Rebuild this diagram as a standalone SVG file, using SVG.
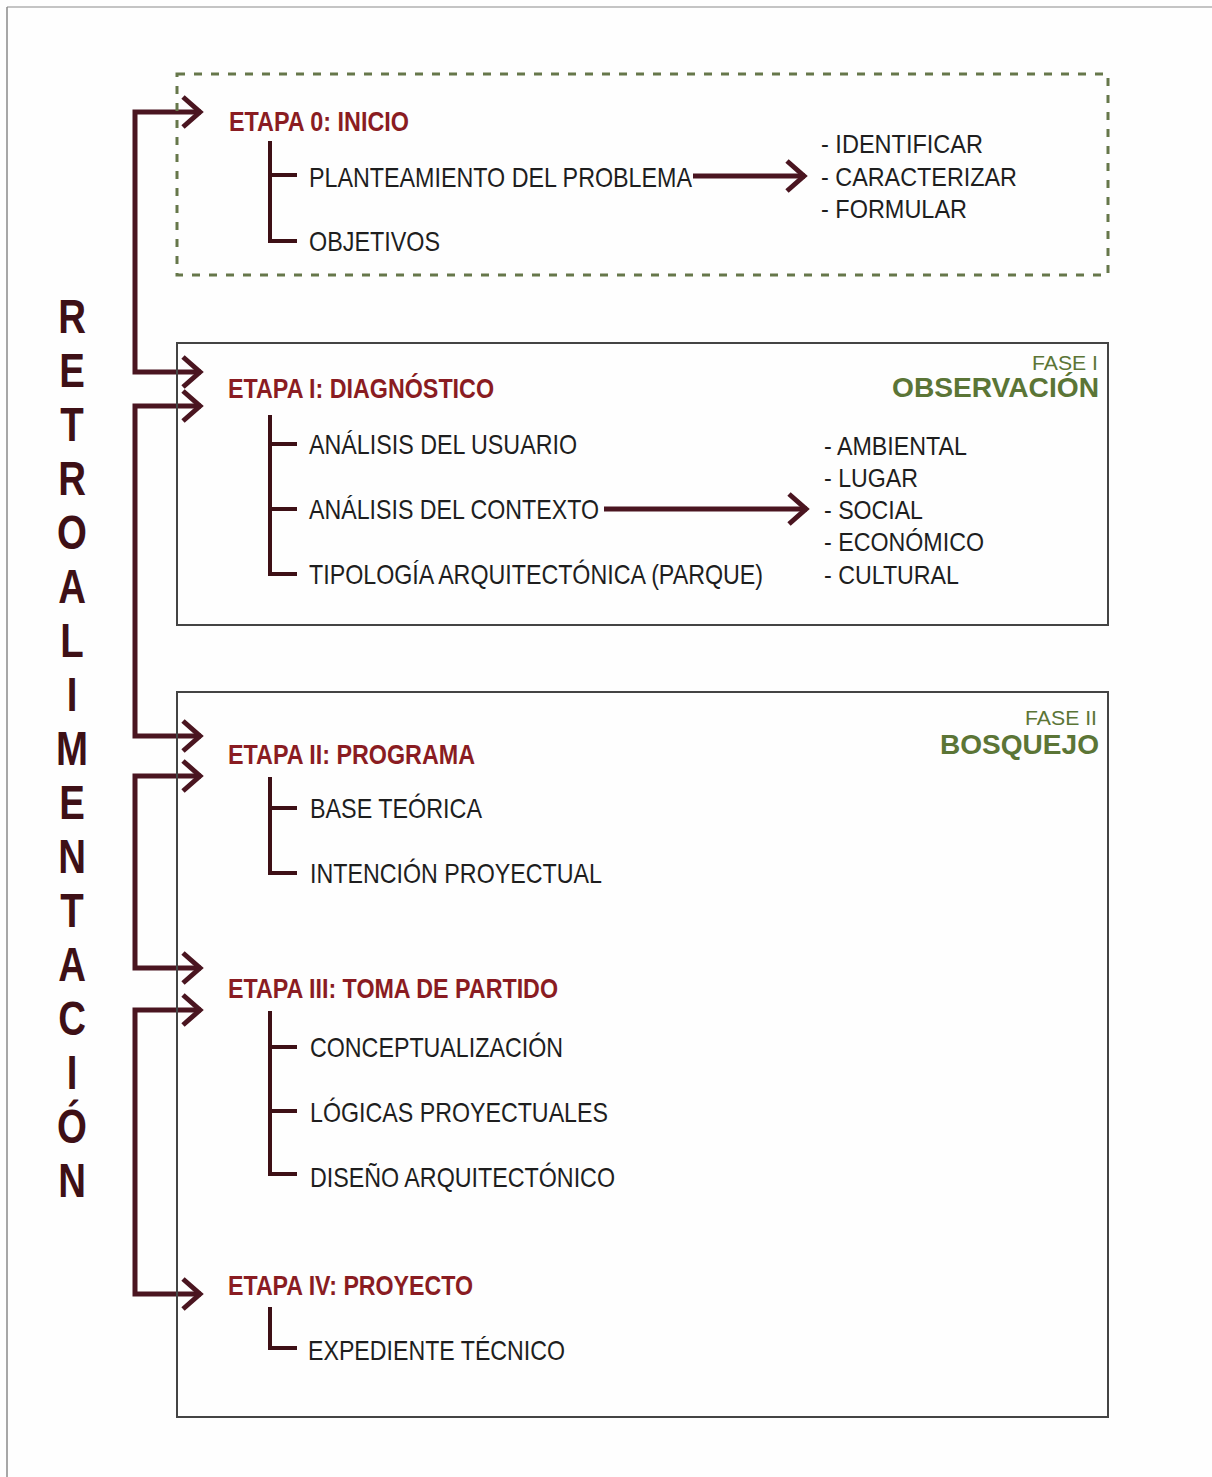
<svg xmlns="http://www.w3.org/2000/svg" width="1212" height="1477" viewBox="0 0 1212 1477">
<style>
.t{font-family:"Liberation Sans",Arial,sans-serif;font-size:28px;fill:#1e1e1e}
.l{font-family:"Liberation Sans",Arial,sans-serif;font-size:26.5px;fill:#1e1e1e}
.l2{font-family:"Liberation Sans",Arial,sans-serif;font-size:25px;fill:#1e1e1e}
.st{font-family:"Liberation Sans",Arial,sans-serif;font-size:27px;font-weight:bold;fill:#8a1c22}
.fase{font-family:"Liberation Sans",Arial,sans-serif;font-size:21px;fill:#5b7536}
.fb{font-family:"Liberation Sans",Arial,sans-serif;font-size:28px;font-weight:bold;fill:#5b7536}
.rl{font-family:"Liberation Sans",Arial,sans-serif;font-size:48px;font-weight:bold;fill:#3e1016}
.fbk{fill:none;stroke:#4a1520;stroke-width:5;stroke-linejoin:miter}
.tree{fill:none;stroke:#3e1016;stroke-width:4}
.box{fill:none;stroke:#444;stroke-width:2}
</style>
<defs>
<marker id="chev" markerUnits="userSpaceOnUse" viewBox="0 0 30 36" markerWidth="30" markerHeight="36" refX="25" refY="18" orient="auto-start-reverse">
<path d="M7,3 L24,18 L7,33" fill="none" stroke="#4a1520" stroke-width="5"/>
</marker>
</defs>
<rect x="0" y="0" width="1212" height="1477" fill="#fefefe"/>
<g id="frame">
<line x1="7" y1="7" x2="1212" y2="7" stroke="#c4c4c4" stroke-width="2"/>
<line x1="7" y1="7" x2="7" y2="1477" stroke="#8a8a8a" stroke-width="1.5"/>
</g>
<g id="connectors">
<path class="fbk" d="M201,112 H135 V372 H201" marker-start="url(#chev)" marker-end="url(#chev)"/>
<path class="fbk" d="M201,406 H135 V736 H201" marker-start="url(#chev)" marker-end="url(#chev)"/>
<path class="fbk" d="M201,776 H135 V968 H201" marker-start="url(#chev)" marker-end="url(#chev)"/>
<path class="fbk" d="M201,1010 H135 V1294 H201" marker-start="url(#chev)" marker-end="url(#chev)"/>
<path class="fbk" d="M693,176 H805" marker-end="url(#chev)"/>
<path class="fbk" d="M604,509 H807" marker-end="url(#chev)"/>
</g>
<g id="box-etapa0">
<rect x="177" y="74" width="931" height="201" fill="none" stroke="#66774a" stroke-width="3" stroke-dasharray="8 9"/>
</g>
<g id="box-fase1"><rect class="box" x="177" y="343" width="931" height="282"/></g>
<g id="box-fase2"><rect class="box" x="177" y="692" width="931" height="725"/></g>
<g id="retroalimentacion" transform="translate(72,0) scale(0.8,1)">
<text class="rl" x="0" y="333" text-anchor="middle">R</text>
<text class="rl" x="0" y="387" text-anchor="middle">E</text>
<text class="rl" x="0" y="441" text-anchor="middle">T</text>
<text class="rl" x="0" y="495" text-anchor="middle">R</text>
<text class="rl" x="0" y="549" text-anchor="middle">O</text>
<text class="rl" x="0" y="603" text-anchor="middle">A</text>
<text class="rl" x="0" y="657" text-anchor="middle">L</text>
<text class="rl" x="0" y="711" text-anchor="middle">I</text>
<text class="rl" x="0" y="765" text-anchor="middle">M</text>
<text class="rl" x="0" y="819" text-anchor="middle">E</text>
<text class="rl" x="0" y="873" text-anchor="middle">N</text>
<text class="rl" x="0" y="927" text-anchor="middle">T</text>
<text class="rl" x="0" y="981" text-anchor="middle">A</text>
<text class="rl" x="0" y="1035" text-anchor="middle">C</text>
<text class="rl" x="0" y="1089" text-anchor="middle">I</text>
<text class="rl" x="0" y="1143" text-anchor="middle">Ó</text>
<text class="rl" x="0" y="1197" text-anchor="middle">N</text>
</g>
<g id="etapa0">
<text class="st" x="229" y="131" textLength="180" lengthAdjust="spacingAndGlyphs">ETAPA 0: INICIO</text>
<path class="tree" d="M270,141 V241 H297 M270,175 H297"/>
<text class="t" x="309" y="187" textLength="383" lengthAdjust="spacingAndGlyphs">PLANTEAMIENTO DEL PROBLEMA</text>
<text class="t" x="309" y="251" textLength="131" lengthAdjust="spacingAndGlyphs">OBJETIVOS</text>
</g>
<g id="etapa0-detalle">
<text class="l" x="821" y="153" textLength="162" lengthAdjust="spacingAndGlyphs">- IDENTIFICAR</text>
<text class="l" x="821" y="186" textLength="196" lengthAdjust="spacingAndGlyphs">- CARACTERIZAR</text>
<text class="l" x="821" y="218" textLength="146" lengthAdjust="spacingAndGlyphs">- FORMULAR</text>
</g>
<g id="fase1-label">
<text class="fase" x="1098" y="370" text-anchor="end" textLength="66" lengthAdjust="spacingAndGlyphs">FASE I</text>
<text class="fb" x="1099" y="397" text-anchor="end" textLength="207" lengthAdjust="spacingAndGlyphs">OBSERVACIÓN</text>
</g>
<g id="etapa1">
<text class="st" x="228" y="398" textLength="266" lengthAdjust="spacingAndGlyphs">ETAPA I: DIAGNÓSTICO</text>
<path class="tree" d="M270,415 V574 H297 M270,444 H297 M270,509 H297"/>
<text class="t" x="309" y="454" textLength="268" lengthAdjust="spacingAndGlyphs">ANÁLISIS DEL USUARIO</text>
<text class="t" x="309" y="519" textLength="290" lengthAdjust="spacingAndGlyphs">ANÁLISIS DEL CONTEXTO</text>
<text class="t" x="309" y="584" textLength="454" lengthAdjust="spacingAndGlyphs">TIPOLOGÍA ARQUITECTÓNICA (PARQUE)</text>
</g>
<g id="etapa1-detalle">
<text class="l2" x="824" y="455" textLength="143" lengthAdjust="spacingAndGlyphs">- AMBIENTAL</text>
<text class="l2" x="824" y="487" textLength="94" lengthAdjust="spacingAndGlyphs">- LUGAR</text>
<text class="l2" x="824" y="519" textLength="99" lengthAdjust="spacingAndGlyphs">- SOCIAL</text>
<text class="l2" x="824" y="551" textLength="160" lengthAdjust="spacingAndGlyphs">- ECONÓMICO</text>
<text class="l2" x="824" y="584" textLength="135" lengthAdjust="spacingAndGlyphs">- CULTURAL</text>
</g>
<g id="fase2-label">
<text class="fase" x="1097" y="725" text-anchor="end" textLength="72" lengthAdjust="spacingAndGlyphs">FASE II</text>
<text class="fb" x="1099" y="754" text-anchor="end" textLength="159" lengthAdjust="spacingAndGlyphs">BOSQUEJO</text>
</g>
<g id="etapa2">
<text class="st" x="228" y="764" textLength="247" lengthAdjust="spacingAndGlyphs">ETAPA II: PROGRAMA</text>
<path class="tree" d="M270,777 V873 H297 M270,808 H297"/>
<text class="t" x="310" y="818" textLength="172" lengthAdjust="spacingAndGlyphs">BASE TEÓRICA</text>
<text class="t" x="310" y="883" textLength="292" lengthAdjust="spacingAndGlyphs">INTENCIÓN PROYECTUAL</text>
</g>
<g id="etapa3">
<text class="st" x="228" y="998" textLength="330" lengthAdjust="spacingAndGlyphs">ETAPA III: TOMA DE PARTIDO</text>
<path class="tree" d="M270,1011 V1174 H297 M270,1047 H297 M270,1111 H297"/>
<text class="t" x="310" y="1057" textLength="253" lengthAdjust="spacingAndGlyphs">CONCEPTUALIZACIÓN</text>
<text class="t" x="310" y="1122" textLength="298" lengthAdjust="spacingAndGlyphs">LÓGICAS PROYECTUALES</text>
<text class="t" x="310" y="1187" textLength="305" lengthAdjust="spacingAndGlyphs">DISEÑO ARQUITECTÓNICO</text>
</g>
<g id="etapa4">
<text class="st" x="228" y="1295" textLength="245" lengthAdjust="spacingAndGlyphs">ETAPA IV: PROYECTO</text>
<path class="tree" d="M270,1307 V1348 H297"/>
<text class="t" x="308" y="1360" textLength="257" lengthAdjust="spacingAndGlyphs">EXPEDIENTE TÉCNICO</text>
</g>
</svg>
